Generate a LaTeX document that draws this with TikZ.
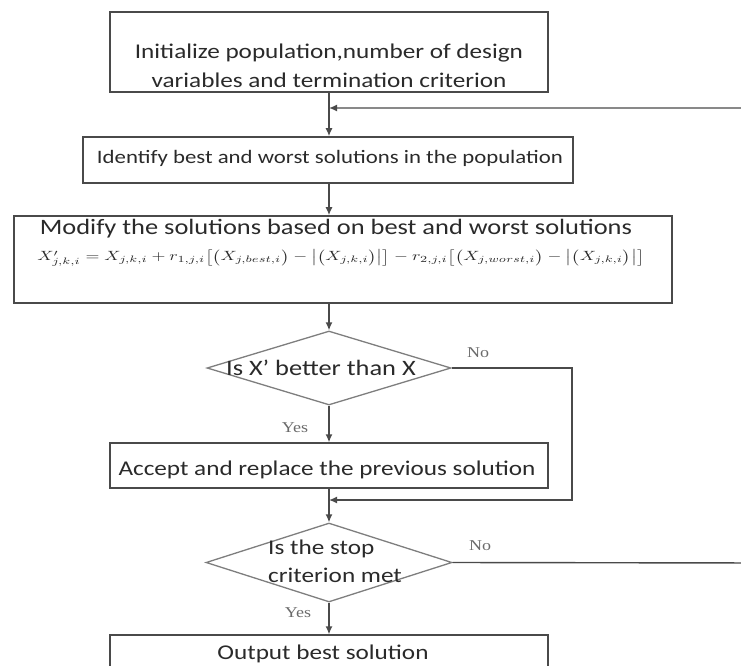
\RequirePackage{fix-cm}
\documentclass[tikz,border=0pt]{standalone}
\usepackage{fontspec}
\setmainfont{Carlito}[FakeStretch=1.2]
\newfontfamily\lblfont{Liberation Serif}[FakeStretch=1.2]
\usepackage{graphicx}
\usetikzlibrary{shapes.geometric,arrows.meta}
\definecolor{ink}{HTML}{2A2A2A}
\definecolor{edge}{HTML}{4A4A4A}
\definecolor{dedge}{HTML}{7E7E7E}
\definecolor{lbl}{HTML}{6A6A6A}
\tikzset{
  procbox/.style={draw=edge, line width=1.3pt, rectangle, inner sep=0pt},
  decbox/.style={draw=dedge, line width=1.3pt, diamond, inner sep=0pt},
  txt/.style={text=ink, align=center, inner sep=0pt},
  yn/.style={text=lbl, font=\lblfont\fontsize{15}{18}\selectfont, inner sep=0pt},
  flow/.style={draw=edge, line width=1.4pt, -{Latex[length=8pt,width=7pt]}},
}
\begin{document}
\begin{tikzpicture}[x=1pt,y=-1pt]
\useasboundingbox (0,0) rectangle (741,666);
\clip (0,0) rectangle (741,666);
% boxes
\node[procbox, minimum width=438pt, minimum height=80pt] (b1) at (329,52) {};
\node[txt, font=\fontsize{21}{29}\selectfont] (t1) at (329,66) {Initialize population,number of design\\variables and termination criterion};
\node[procbox, line width=1.6pt, minimum width=490pt, minimum height=46pt] (b2) at (328,160) {};
\node[txt, font=\fontsize{19}{23}\selectfont] (t2) at (330,158) {Identify best and worst solutions in the population};
\node[procbox, line width=1.6pt, minimum width=658pt, minimum height=87pt] (b3) at (343,259.5) {};
\node[txt, font=\fontsize{22}{26}\selectfont] (t3) at (336,229) {Modify the solutions based on best and worst solutions};
\node[txt] (t3f) at (341,258) {\resizebox*{607pt}{17pt}{$X'_{j,k,i} = X_{j,k,i} + r_{1,j,i}\bigl[\bigl(X_{j,best,i}\bigr) - \bigl|\bigl(X_{j,k,i}\bigr)\bigr|\bigr] - r_{2,j,i}\bigl[\bigl(X_{j,worst,i}\bigr) - \bigl|\bigl(X_{j,k,i}\bigr)\bigr|\bigr]$}};
\node[decbox, minimum width=244pt, minimum height=74pt] (d1) at (329,368) {};
\node[txt, font=\fontsize{22}{26}\selectfont] (td1) at (321,368) {Is X' better than X};
\node[procbox, minimum width=438pt, minimum height=45pt] (b4) at (329,465.5) {};
\node[txt, font=\fontsize{21}{25}\selectfont] (t4) at (327,470) {Accept and replace the previous solution};
\node[decbox, minimum width=246pt, minimum height=79pt] (d2) at (329,562.5) {};
\node[txt, align=left, anchor=west, font=\fontsize{21}{28}\selectfont] (td2) at (268,561) {Is the stop\\criterion met};
\node[procbox, minimum width=438pt, minimum height=45pt] (b5) at (329,657.5) {};
\node[txt, font=\fontsize{21}{25}\selectfont] (t5) at (323,654) {Output best solution};
% labels
\node[yn] (no1) at (478,353) {No};
\node[yn] (yes1) at (295,428) {Yes};
\node[yn] (no2) at (480,546) {No};
\node[yn] (yes2) at (298,613) {Yes};
% loop-back points
\coordinate (fb1) at (329,108);
\coordinate (fb2) at (329,500);
\coordinate (r1) at (572,368);
\coordinate (r2) at (770,563);
% connectors
\draw[flow] (b1.south -| fb1) -- (b2.north -| fb1);
\draw[flow] (b2.south -| fb1) -- (b3.north -| fb1);
\draw[flow] (b3.south -| d1.north) -- (d1.north);
\draw[flow] (d1.south) -- (b4.north);
\draw[flow] (b4.south) -- (d2.north);
\draw[flow] (d2.south) -- (b5.north);
\draw[flow] (d1.east) -- (r1) |- (fb2);
\draw[flow] (d2.east) -- (r2) |- (fb1);
\end{tikzpicture}
\end{document}
